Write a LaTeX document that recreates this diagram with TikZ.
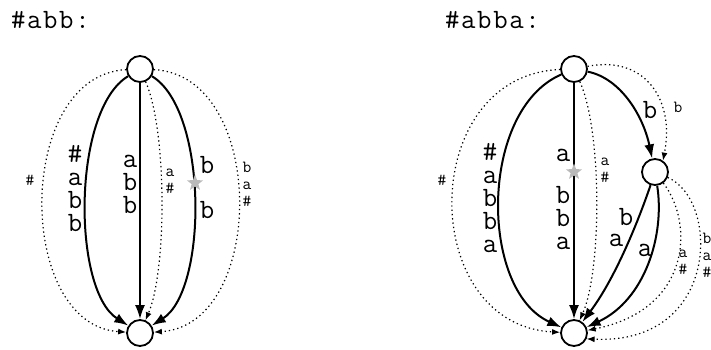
\documentclass[tikz,border=0pt]{standalone}
\usetikzlibrary{arrows.meta,shapes.geometric}
% typewriter text with a little extra tracking for the headings
\newcommand{\spaced}[1]{\def\sep{\kern1.6pt}#1}
\begin{document}
\begin{tikzpicture}[x=1pt,y=-1pt,
  state/.style={circle,draw,line width=1.8pt,minimum size=26pt,inner sep=0pt},
  solid edge/.style={line width=2pt,-{Latex[length=14pt,width=10pt]}},
  dotted edge/.style={line width=1.2pt,dash pattern=on 1.3pt off 3pt,-{Latex[length=8pt,width=6pt]}},
  big/.style={font=\ttfamily\fontsize{28}{23}\selectfont,align=center,inner sep=0pt},
  small/.style={font=\ttfamily\fontsize{17}{17}\selectfont,align=center,inner sep=0pt},
  hit star/.style={star,star points=5,star point ratio=2.4,fill=gray!55,minimum size=17pt,inner sep=0pt}
]
\useasboundingbox (0,0) rectangle (711,349);

% ---- automaton for #abb ----
\node[big,anchor=base west] (title1) at (11,28) {\spaced{\#\sep a\sep b\sep b\sep :}};
\node[state] (a0) at (140,69) {};
\node[state] (a1) at (140,333) {};

\draw[solid edge] (a0) -- (a1);
\draw[solid edge] (a0) .. controls (72,110) and (72,290) .. (a1);
\draw[solid edge] (a0) .. controls (208,110) and (208,290) .. (a1);
\draw[dotted edge] (a0) .. controls (167,130) and (167,270) .. (a1);
\draw[dotted edge] (a0) .. controls (15,75) and (15,325) .. (a1);
\draw[dotted edge] (a0) .. controls (267,75) and (267,325) .. (a1);

\node[big] (la1) at (75,189) {\#\\a\\b\\b};
\node[big] (la2) at (130,184) {a\\b\\b};
\node[big] (la3) at (207,165) {b};
\node[big] (la4) at (207,210) {b};
\node[hit star] (sa) at (195,183) {};
\node[small] (la5) at (170,181) {a\\\#};
\node[small] (la6) at (30,180) {\#};
\node[small] (la7) at (247,184) {b\\a\\\#};

% ---- automaton for #abba ----
\node[big,anchor=base west] (title2) at (445,28) {\spaced{\#\sep a\sep b\sep b\sep a\sep :}};
\node[state] (b0) at (574,69) {};
\node[state] (b1) at (655,172) {};
\node[state] (b2) at (574,333) {};

\draw[solid edge] (b0) -- (b2);
\draw[solid edge] (b0) .. controls (479,110) and (479,290) .. (b2);
\draw[dotted edge] (b0) .. controls (602,130) and (602,270) .. (b2);
\draw[dotted edge] (b0) .. controls (417,75) and (417,325) .. (b2);
\draw[solid edge] (b0) .. controls (620,78) and (643,115) .. (b1);
\draw[dotted edge] (b0) .. controls (645,55) and (675,100) .. (b1.55);
\draw[solid edge] (b1) .. controls (637,225) and (614,280) .. (b2);
\draw[solid edge] (b1) .. controls (665,235) and (645,300) .. (b2);
\draw[dotted edge] (b1) .. controls (695,225) and (690,310) .. (b2);
\draw[dotted edge] (b1) .. controls (720,200) and (720,345) .. (b2.-25);

\node[big] (lb1) at (490,198) {\#\\a\\b\\b\\a};
\node[big] (lb2) at (563,155) {a};
\node[hit star] (sb) at (574,172) {};
\node[big] (lb3) at (563,218) {b\\b\\a};
\node[small] (lb4) at (605,170) {a\\\#};
\node[small] (lb5) at (442,180) {\#};
\node[big] (lb6) at (650,110) {b};
\node[small] (lb7) at (678,107) {b};
\node[big] (lb8) at (626,217) {b};
\node[big] (lb9) at (616,240) {a};
\node[big] (lb10) at (645,250) {a};
\node[small] (lb11) at (683,262) {a\\\#};
\node[small] (lb12) at (707,255) {b\\a\\\#};
\end{tikzpicture}
\end{document}
